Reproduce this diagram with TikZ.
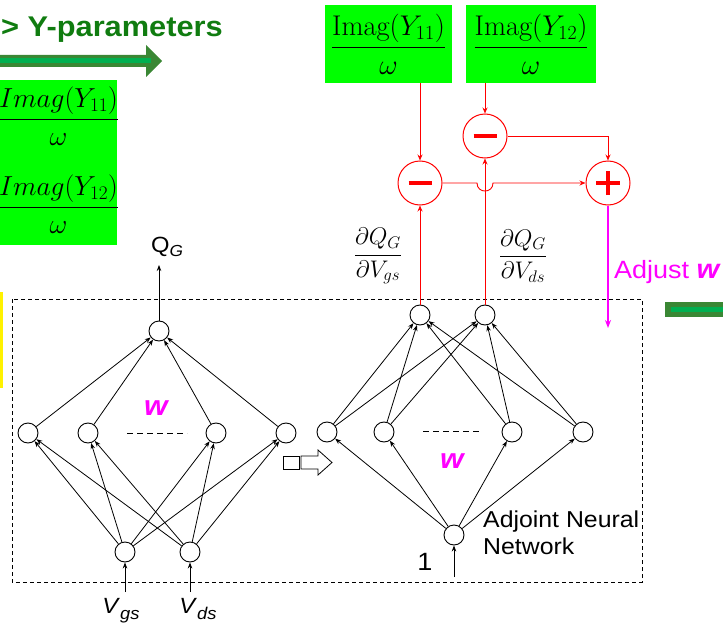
\RequirePackage{fix-cm}
\documentclass[tikz,border=0pt]{standalone}
\usepackage{fontspec}
\setsansfont[FakeStretch=1.08]{Liberation Sans}
\usetikzlibrary{arrows.meta,calc}

\definecolor{titlegreen}{RGB}{16,124,16}
\definecolor{bargreen}{RGB}{58,135,52}
\definecolor{stripegreen}{RGB}{0,176,80}
\definecolor{boxgreen}{RGB}{0,255,0}
\definecolor{adjmag}{RGB}{255,0,255}

\begin{document}
\begin{tikzpicture}[x=1pt,y=-1pt,
  neuron/.style={circle,draw,line width=0.9pt,fill=white,minimum size=20pt,inner sep=0pt},
  link/.style={line width=0.8pt,-{Stealth[length=6pt,width=4.5pt]}},
  sumnode/.style={circle,draw=red,line width=1pt,minimum size=44pt,inner sep=0pt,fill=white},
  redlink/.style={red,line width=0.9pt,-{Stealth[length=6pt,width=5pt]}},
  adjlink/.style={adjmag,line width=1.6pt,-{Stealth[length=8pt,width=6pt]}},
  signbar/.style={red,line width=4.5pt},
  fracfont/.style={font=\fontsize{28.5}{32}\selectfont},
  sidefrac/.style={inner sep=0pt,font=\fontsize{27.5}{31}\selectfont},
  databox/.style={fill=boxgreen,minimum height=78pt,inner sep=0pt,fracfont},
  mathlbl/.style={font=\fontsize{24}{28}\selectfont},
  lbl/.style={font=\sffamily\fontsize{22}{26}\selectfont},
  weightlbl/.style={text=adjmag,font=\sffamily\bfseries\itshape\fontsize{28}{30}\selectfont},
  netbox/.style={dashed,dash pattern=on 4pt off 3pt,line width=0.9pt},
  ellipsisline/.style={dash pattern=on 6pt off 4pt,line width=0.8pt},
  hollowarrow/.style={draw,line width=0.8pt,fill=white}
]
\useasboundingbox (0,0) rectangle (723,626);

% ---- heading and green band arrows ----
\node[anchor=base east,text=titlegreen,inner sep=0pt,
      font=\sffamily\bfseries\fontsize{28.5}{32}\selectfont] (title) at (223,37) {> Y-parameters};
\fill[bargreen] (-5,55) -- (146,55) -- (146,45) -- (162,61) -- (146,77) -- (146,67) -- (-5,67) -- cycle;
\draw[stripegreen,line width=5pt] (-5,61) -- (151,61);
\fill[bargreen] (665,302) rectangle (730,316.5);
\fill[stripegreen] (670.5,306.5) rectangle (730,311.5);

% ---- boxes on the left edge ----
\fill[boxgreen] (-20,80) rectangle (117,245);
\node[sidefrac] (lf1) at (58.5,116) {$\displaystyle\frac{Imag(Y_{11})}{\omega}$};
\node[sidefrac] (lf2) at (58.5,204) {$\displaystyle\frac{Imag(Y_{12})}{\omega}$};
\fill[yellow] (-5,292) rectangle (2.5,388);

% ---- dashed frame round both networks ----
\draw[netbox] (12,299) rectangle (642,582);

% ---- original network ----
\node[neuron] (lo)  at (159,331) {};
\node[neuron] (lh1) at (28,433) {};
\node[neuron] (lh2) at (88,433) {};
\node[neuron] (lh3) at (216,433) {};
\node[neuron] (lh4) at (286,433) {};
\node[neuron] (li1) at (125,552) {};
\node[neuron] (li2) at (190,552) {};
\foreach \h in {lh1,lh2,lh3,lh4} {
  \draw[link] (\h) -- (lo);
  \draw[link] (li1) -- (\h);
  \draw[link] (li2) -- (\h);
}
\draw[ellipsisline] (127,433) -- (187,433);
\coordinate (qgtip) at (159,265);
\coordinate (vgsin) at (125,592);
\coordinate (vdsin) at (190,592);
\draw[link] (lo) -- (qgtip);
\draw[link] (vgsin) -- (li1);
\draw[link] (vdsin) -- (li2);
\node[lbl,anchor=base,inner sep=0pt] (qg) at (167,252) {Q\raisebox{-4pt}{\fontsize{16}{16}\selectfont\textit{G}}};
\node[lbl,anchor=base,inner sep=0pt] (vgs) at (121,613) {\textit{V}\raisebox{-6pt}{\fontsize{17}{17}\selectfont\textit{gs}}};
\node[lbl,anchor=base,inner sep=0pt] (vds) at (198,613) {\textit{V}\raisebox{-6pt}{\fontsize{17}{17}\selectfont\textit{ds}}};
\node[weightlbl,anchor=base,inner sep=0pt] (lw) at (156,415) {w};

% ---- transformation arrow ----
\draw[hollowarrow] (283,456) rectangle (299,469);
\draw[hollowarrow] (301,456) -- (318,456) -- (318,450) -- (332,462.5) -- (318,475) -- (318,469) -- (301,469) -- cycle;

% ---- adjoint network ----
\node[neuron] (ro1) at (420,315) {};
\node[neuron] (ro2) at (485,315) {};
\node[neuron] (rh1) at (327,432) {};
\node[neuron] (rh2) at (384,432) {};
\node[neuron] (rh3) at (512,432) {};
\node[neuron] (rh4) at (583,432) {};
\node[neuron] (ri)  at (454,535) {};
\foreach \h in {rh1,rh2,rh3,rh4} {
  \draw[link] (ri) -- (\h);
  \draw[link] (\h) -- (ro1);
  \draw[link] (\h) -- (ro2);
}
\draw[ellipsisline] (423,431) -- (482,431);
\coordinate (onein) at (454,577);
\draw[link] (onein) -- (ri);
\node[lbl,anchor=base,inner sep=0pt,font=\sffamily\fontsize{25}{28}\selectfont] (one) at (425,570) {1};
\node[lbl,anchor=north west,align=left,inner sep=0pt,font=\sffamily\fontsize{23}{27}\selectfont] (adjname) at (483,511) {Adjoint Neural\\Network};
\node[weightlbl,anchor=base,inner sep=0pt] (rw) at (452,468) {w};

% ---- derivative labels ----
\node[mathlbl] (dgs) at (378,256) {$\displaystyle\frac{\partial Q_G}{\partial V_{gs}}$};
\node[mathlbl] (dds) at (523,256) {$\displaystyle\frac{\partial Q_G}{\partial V_{ds}}$};

% ---- measured data and error computation ----
\node[databox,minimum width=127pt] (b1) at (388.5,44) {$\displaystyle\frac{\mathrm{Imag}(Y_{11})}{\omega}$};
\node[databox,minimum width=130pt] (b2) at (531,44) {$\displaystyle\frac{\mathrm{Imag}(Y_{12})}{\omega}$};
\node[sumnode] (m1) at (420,183) {};
\node[sumnode] (m2) at (485,136) {};
\node[sumnode] (pl) at (608,183) {};
\draw[signbar] ([xshift=-11.5pt]m1.center) -- ([xshift=11.5pt]m1.center);
\draw[signbar] ([xshift=-11.5pt]m2.center) -- ([xshift=11.5pt]m2.center);
\draw[signbar] ([xshift=-12pt]pl.center) -- ([xshift=12pt]pl.center);
\draw[signbar] ([yshift=-12pt]pl.center) -- ([yshift=12pt]pl.center);

\draw[redlink] (m1 |- b1.south) -- (m1);
\draw[redlink] (m2 |- b2.south) -- (m2);
\draw[redlink] (m2) -| (pl);
\draw[redlink] (ro1) -- (m1);
\draw[redlink] (ro2) -- (m2);
\draw[redlink] (m1) -- ($(m2 |- m1)+(-8,0)$)
   .. controls +(0,10.7) and +(0,10.7) .. ($(m2 |- m1)+(8,0)$) -- (pl);

% ---- weight update ----
\coordinate (adjtip) at (608,328);
\draw[adjlink] (pl) -- (adjtip);
\node[anchor=base west,inner sep=0pt,text=adjmag,font=\sffamily\fontsize{25}{28}\selectfont] (adjw) at (614,278) {Adjust {\bfseries\itshape\fontsize{27}{28}\selectfont w}};
\end{tikzpicture}
\end{document}
